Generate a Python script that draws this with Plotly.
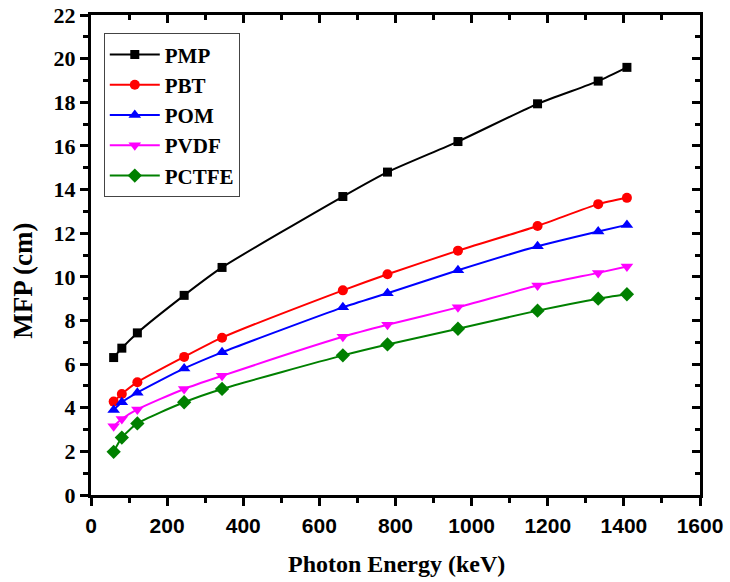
import plotly.graph_objects as go

# Photon energies (keV)
energy = [59.5, 81.0, 121.8, 244.7, 344.3, 661.7, 778.9, 964.1, 1173.2, 1332.5, 1408.0]

# Mean free path (cm)
pmp = [6.30, 6.73, 7.43, 9.15, 10.43, 13.68, 14.80, 16.20, 17.93, 18.97, 19.60]
pbt = [4.28, 4.63, 5.17, 6.33, 7.21, 9.38, 10.12, 11.20, 12.33, 13.33, 13.62]
pom = [3.90, 4.25, 4.69, 5.80, 6.54, 8.60, 9.25, 10.30, 11.40, 12.08, 12.38]
pvdf = [3.15, 3.48, 3.92, 4.86, 5.46, 7.25, 7.80, 8.60, 9.60, 10.18, 10.47]
pctfe = [1.98, 2.63, 3.28, 4.25, 4.86, 6.40, 6.90, 7.62, 8.45, 9.00, 9.20]

series = [
    ("PMP", pmp, "black", "square", 9),
    ("PBT", pbt, "red", "circle", 10),
    ("POM", pom, "blue", "triangle-up", 11),
    ("PVDF", pvdf, "magenta", "triangle-down", 11),
    ("PCTFE", pctfe, "green", "diamond", 11),
]

fig = go.Figure()
for name, vals, color, sym, size in series:
    fig.add_trace(go.Scatter(
        x=energy, y=vals, name=name, mode="lines+markers", legendgroup=name,
        line=dict(color=color, width=2, shape="spline", smoothing=0.6),
        marker=dict(symbol=sym, size=size, color=color),
    ))

serif = "Liberation Serif, Times New Roman, serif"
narrow = "Liberation Sans Narrow, Arial Narrow, Liberation Sans, Arial, sans-serif"

def axis_style(tick_dir, minor_dtick):
    return dict(
        showline=True, linecolor="black", linewidth=3,
        ticks=tick_dir, ticklen=8, tickwidth=3, tickcolor="black",
        showgrid=False, zeroline=False, automargin=False,
        minor=dict(ticks=tick_dir, ticklen=5, tickwidth=3, dtick=minor_dtick, tickcolor="black"),
    )

fig.update_layout(
    width=730, height=582,
    margin=dict(l=91, r=30, t=15, b=87),
    plot_bgcolor="white", paper_bgcolor="white",
    xaxis=dict(range=[0, 1600], dtick=200, ticklabelstandoff=2, ticklabeloverflow="allow",
               tickfont=dict(family=narrow, size=21, color="black", weight="bold"),
               **axis_style("outside", 100)),
    yaxis=dict(range=[0, 22], dtick=2, ticklabeloverflow="allow",
               tickfont=dict(family=serif, size=22, color="black", weight="bold"),
               **axis_style("outside", 1)),
    xaxis2=dict(overlaying="x", side="top", range=[0, 1600], dtick=200, showticklabels=False,
                **axis_style("inside", 100)),
    yaxis2=dict(overlaying="y", side="right", range=[0, 22], dtick=2, showticklabels=False,
                **axis_style("inside", 1)),
    legend=dict(
        x=0.021, y=0.962, xanchor="left", yanchor="top",
        bordercolor="#444", borderwidth=1, bgcolor="white",
        font=dict(family=serif, size=21, color="black", weight="bold"),
        tracegroupgap=0, itemwidth=50,
    ),
    showlegend=True,
)

# axis titles
fig.add_annotation(text="Photon Energy (keV)", xref="paper", yref="paper", x=0.502, y=-0.144,
                   showarrow=False, xanchor="center", yanchor="middle",
                   font=dict(family=serif, size=24, color="black", weight="bold"))
fig.add_annotation(text="MFP (cm)", xref="paper", yref="paper", x=-0.112, y=0.446,
                   showarrow=False, xanchor="center", yanchor="middle", textangle=-90,
                   font=dict(family=serif, size=27, color="black", weight="bold"))

# invisible trace so the mirror axes are drawn
fig.add_trace(go.Scatter(x=[None], y=[None], xaxis="x2", yaxis="y2", showlegend=False, hoverinfo="skip"))

# drop the default page margin so the figure sits at the window's corner
fig.write_html("out.html", config={"displayModeBar": False},
               post_script="document.body.style.margin='0px';")
